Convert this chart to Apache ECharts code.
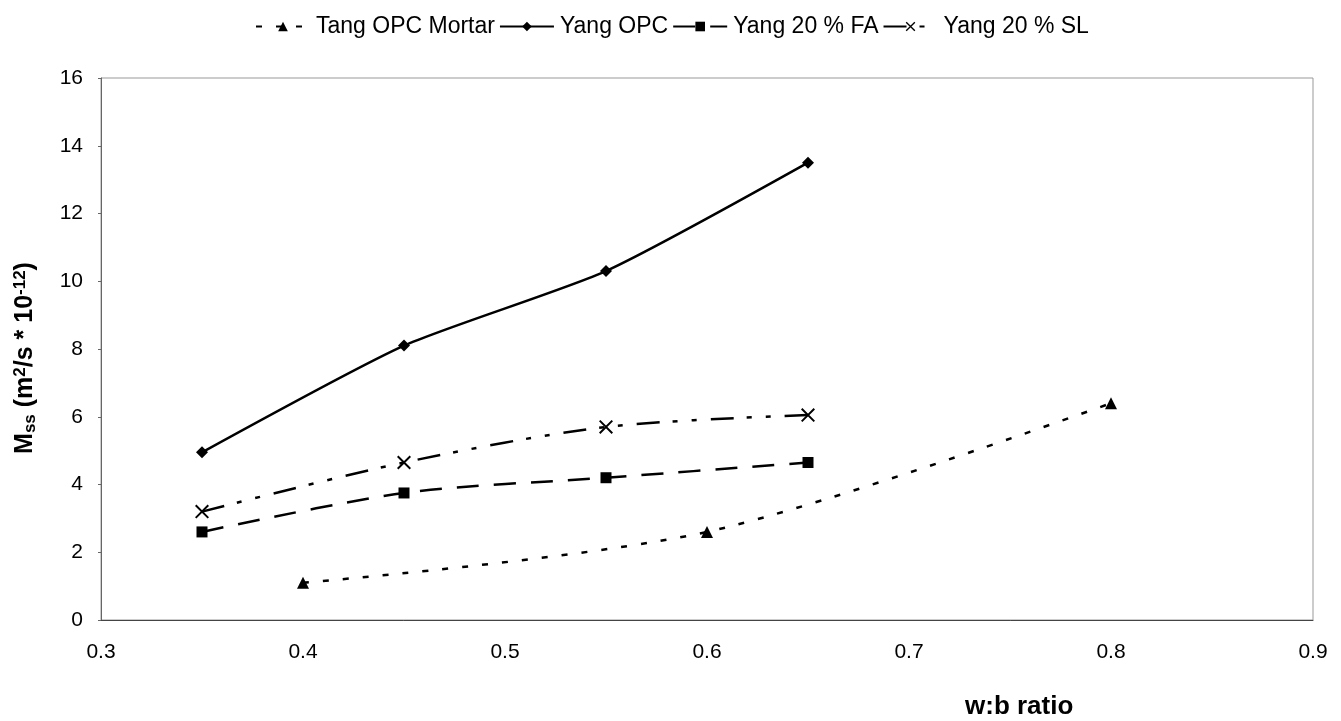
<!DOCTYPE html>
<html>
<head>
<meta charset="utf-8">
<script src="https://cdn.jsdelivr.net/npm/echarts@6/dist/echarts.min.js"></script>
<style>
  html, body { margin: 0; padding: 0; background: #fff; }
  #chart { width: 1341px; height: 721px; }
</style>
</head>
<body>
<div id="chart"></div>
<script>
// w:b ratio vs Mss values
const tangX = [0.4, 0.6, 0.8];
const tangOPC = [1.1, 2.6, 6.4];
const yangX = [0.35, 0.45, 0.55, 0.65];
const yangOPC = [4.95, 8.1, 10.3, 13.5];
const yang20FA = [2.6, 3.75, 4.2, 4.65];
const yang20SL = [3.2, 4.65, 5.7, 6.05];
const seriesNames = ['Tang OPC Mortar', 'Yang OPC', 'Yang 20 % FA', 'Yang 20 % SL'];

const pairs = (xs, ys) => xs.map((x, i) => [x, ys[i]]);

const FONT = '"Liberation Sans", Arial, Helvetica, sans-serif';
const crossPath = 'path://M0,1 L1,0 L10,9 L9,10 Z M9,0 L10,1 L1,10 L0,9 Z';

const chart = echarts.init(document.getElementById('chart'));

const option = {
  backgroundColor: '#fff',
  animation: false,
  textStyle: { fontFamily: FONT, color: '#000' },
  legend: {
    top: 10,
    left: 250,
    itemWidth: 54,
    itemHeight: 12,
    itemGap: 4,
    textStyle: { fontFamily: FONT, fontSize: 23, color: '#000', padding: [0, 0, 0, 1] },
    data: seriesNames
  },
  grid: { left: 101, right: 28, top: 78, bottom: 101, show: true, borderColor: '#999', borderWidth: 1 },
  xAxis: {
    type: 'value',
    min: 0.3,
    max: 0.9,
    interval: 0.1,
    axisLine: { show: true, lineStyle: { color: '#444', width: 1 } },
    axisTick: { show: false },
    splitLine: { show: false },
    axisLabel: {
      margin: 22,
      fontFamily: FONT,
      fontSize: 21,
      color: '#000',
      formatter: v => v.toFixed(1)
    }
  },
  yAxis: {
    type: 'value',
    min: 0,
    max: 16,
    interval: 2,
    axisLine: { show: true, lineStyle: { color: '#666', width: 1 } },
    axisTick: { show: true, length: 3, lineStyle: { color: '#666' } },
    splitLine: { show: false },
    axisLabel: { margin: 18, fontFamily: FONT, fontSize: 21, color: '#000' },
    name: '{b|M}{sub|ss}{b| (m}{sup|2}{b|/s * 10}{sup|-12}{b|)}',
    nameLocation: 'middle',
    nameRotate: 90,
    nameGap: 62,
    nameTextStyle: {
      padding: [0, 18, 0, 0],
      rich: {
        b: { fontFamily: FONT, fontSize: 25, fontWeight: 'bold', color: '#000', verticalAlign: 'middle' },
        sub: { fontFamily: FONT, fontSize: 17, fontWeight: 'bold', color: '#000', verticalAlign: 'bottom', padding: [10, 0, 0, 0] },
        sup: { fontFamily: FONT, fontSize: 17, fontWeight: 'bold', color: '#000', verticalAlign: 'top', padding: [0, 0, 10, 0] }
      }
    }
  },
  graphic: [{
    type: 'text',
    left: 965,
    top: 694,
    style: { text: 'w:b ratio', font: 'bold 26px ' + FONT, fill: '#000' }
  }],
  series: [
    {
      name: seriesNames[0],
      type: 'line',
      data: pairs(tangX, tangOPC),
      smooth: 0.3,
      symbol: 'triangle',
      symbolSize: 12,
      itemStyle: { color: '#000' },
      lineStyle: { color: '#000', width: 2.5, type: [6, 14] }
    },
    {
      name: seriesNames[1],
      type: 'line',
      data: pairs(yangX, yangOPC),
      smooth: 0.2,
      symbol: 'diamond',
      symbolSize: 12,
      itemStyle: { color: '#000' },
      lineStyle: { color: '#000', width: 2.5 }
    },
    {
      name: seriesNames[2],
      type: 'line',
      data: pairs(yangX, yang20FA),
      smooth: 0.3,
      symbol: 'rect',
      symbolSize: 11,
      itemStyle: { color: '#000' },
      lineStyle: { color: '#000', width: 2.5, type: [22, 15] }
    },
    {
      name: seriesNames[3],
      type: 'line',
      data: pairs(yangX, yang20SL),
      smooth: 0.3,
      symbol: crossPath,
      symbolSize: 14,
      itemStyle: { color: '#000' },
      lineStyle: { color: '#000', width: 2.5, type: [23, 13, 5, 14, 5, 14] }
    }
  ]
};

chart.setOption(option);
</script>
</body>
</html>
